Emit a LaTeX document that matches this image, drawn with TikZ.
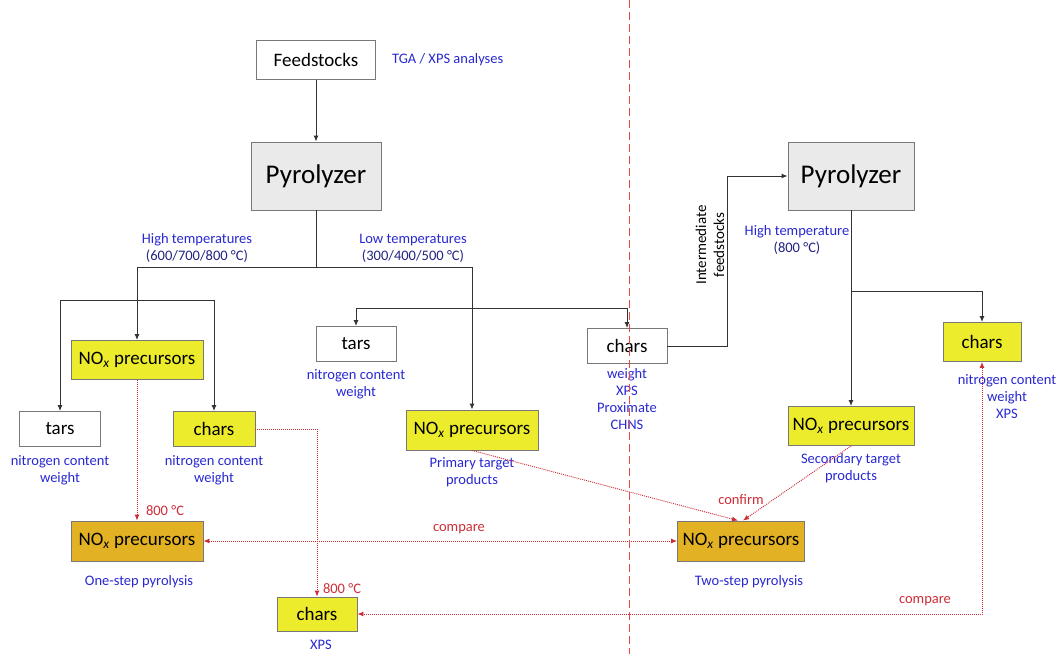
\documentclass[tikz,border=0pt]{standalone}
\usepackage{fontspec}
\setmainfont{Carlito}
\usetikzlibrary{positioning,arrows.meta}

\definecolor{boxyellow}{RGB}{236,236,44}
\definecolor{boxgold}{RGB}{226,178,36}
\definecolor{boxgrey}{RGB}{234,234,234}
\definecolor{infoblue}{RGB}{40,40,210}
\definecolor{infonavy}{RGB}{35,35,130}
\definecolor{linkred}{RGB}{205,45,55}
\definecolor{splitred}{RGB}{240,70,70}
\definecolor{edgegrey}{RGB}{120,120,120}

\newcommand{\nox}{NO\textsubscript{\itshape x} precursors}

\tikzset{
  box/.style={draw=edgegrey, line width=0.9pt, inner sep=0pt,
    minimum width=80pt, minimum height=35pt, font=\fontsize{19}{22}\selectfont},
  plainbox/.style={box, fill=white},
  yellowbox/.style={box, fill=boxyellow},
  goldbox/.style={box, fill=boxgold},
  pyrobox/.style={box, fill=boxgrey, minimum width=130pt, minimum height=68pt,
    font=\fontsize{27}{30}\selectfont},
  info/.style={text=infoblue, align=center, inner sep=0pt,
    font=\fontsize{14.5}{17}\selectfont},
  redlabel/.style={text=linkred, inner sep=0pt, font=\fontsize{14.5}{16}\selectfont},
  trunk/.style={draw=black!80, line width=1pt},
  flow/.style={trunk, -{Latex[length=6pt,width=5pt]}},
  link/.style={draw=linkred, line width=0.9pt, dash pattern=on 1pt off 1pt,
    -{Latex[length=6pt,width=5pt]}},
  twolink/.style={link, {Latex[length=6pt,width=5pt]}-{Latex[length=6pt,width=5pt]}},
}

\begin{document}
\begin{tikzpicture}[x=1pt, y=-1pt]
    \useasboundingbox (0,0) rectangle (1061,654);

    % first pyrolysis
    \node[plainbox, minimum width=119pt, minimum height=39pt] (feed) at (316,60) {Feedstocks};
    \node[info, right=16pt of feed] (feedInfo) {TGA / XPS analyses};
    \node[pyrobox] (pyro1) at (316,176) {Pyrolyzer};

    \node[info] (hiInfo) at (197,248) {High temperatures\\\textcolor{infonavy}{(600/700/800 °C)}};
    \node[info] (loInfo) at (413,248) {Low temperatures\\\textcolor{infonavy}{(300/400/500 °C)}};

    \node[yellowbox, minimum width=132pt, minimum height=39pt] (noxHi) at (137,360) {\nox};
    \node[plainbox, minimum width=81pt] (tarsHi) at (60,429) {tars};
    \node[yellowbox, minimum width=82pt] (charsHi) at (214,429) {chars};
    \node[info, below=8pt of tarsHi] (tarsHiInfo) {nitrogen content\\weight};
    \node[info, below=8pt of charsHi] (charsHiInfo) {nitrogen content\\weight};

    \node[plainbox] (tarsLo) at (356,344) {tars};
    \node[info, below=7pt of tarsLo] (tarsLoInfo) {nitrogen content\\weight};
    \node[yellowbox, minimum width=132pt, minimum height=40pt] (noxPri) at (472,430) {\nox};
    \node[info, below=7pt of noxPri] (noxPriInfo) {Primary target\\products};
    \node[plainbox] (charsLo) at (627,346) {chars};
    \node[info, below=4pt of charsLo] (charsLoInfo) {weight\\XPS\\Proximate\\CHNS};

    % second pyrolysis
    \node[pyrobox, minimum width=126pt] (pyro2) at (851,176) {Pyrolyzer};
    \node[rotate=90, align=center, inner sep=0pt, font=\fontsize{15}{18}\selectfont]
        (interLbl) at (710,245) {Intermediate\\feedstocks};
    \node[info] (hi2Info) at (797,240) {High temperature\\\textcolor{infonavy}{(800 °C)}};
    \node[yellowbox, minimum width=78pt, minimum height=39pt] (charsR) at (982,342) {chars};
    \node[info] (charsRInfo) at (1007,397) {nitrogen content\\weight\\XPS};
    \node[yellowbox, minimum width=126pt, minimum height=39pt] (noxSec) at (851,426) {\nox};
    \node[info, below=7pt of noxSec] (noxSecInfo) {Secondary target\\products};

    % results
    \node[goldbox, minimum width=132pt, minimum height=40pt] (noxOne) at (137,541) {\nox};
    \node[info] (oneInfo) at (139,582) {One-step pyrolysis};
    \node[goldbox, minimum width=127pt, minimum height=40pt] (noxTwo) at (741,541) {\nox};
    \node[info] (twoInfo) at (749,582) {Two-step pyrolysis};
    \node[yellowbox, minimum height=34pt] (charsBot) at (317,614) {chars};
    \node[info] (charsBotInfo) at (321,645) {XPS};

    % junctions
    \coordinate (split1) at (316,267);
    \coordinate (splitHi) at (137,300);
    \coordinate (splitLo) at (472,308);
    \coordinate (turn) at (727,176);
    \coordinate (split2) at (851,291);

    % black flow
    \draw[flow] (feed) -- (pyro1);
    \draw[trunk] (pyro1) -- (split1);
    \draw[flow] (split1) -| (noxHi);
    \draw[flow] (split1) -| (noxPri);
    \draw[flow] (splitHi) -| (tarsHi);
    \draw[flow] (splitHi) -| (charsHi);
    \draw[flow] (splitLo) -| (tarsLo);
    \draw[flow] (splitLo) -| (charsLo);
    \draw[flow] (charsLo.east) -| (turn) -- (pyro2);
    \draw[flow] (pyro2) -- (noxSec);
    \draw[flow] (split2) -| (charsR);

    % red links
    \draw[link] (noxHi) -- (noxOne);
    \node[redlabel] (tempOne) at (165,511) {800 °C};
    \draw[link] (charsHi.east) -| (charsBot);
    \node[redlabel] (tempBot) at (342,589) {800 °C};
    \draw[twolink] (noxOne) -- (noxTwo);
    \node[redlabel] (cmpOne) at (459,529) {compare};
    \draw[link] (noxPri.south) -- ([xshift=-3pt]noxTwo.north);
    \draw[link] (noxSec.south) -- ([xshift=2pt]noxTwo.north);
    \node[redlabel] (confirm) at (741,500) {confirm};
    \draw[twolink] (charsR) |- (charsBot);
    \node[redlabel] (cmpTwo) at (925,601) {compare};

    % split between one-step and two-step
    \draw[color=splitred, line width=0.9pt, dash pattern=on 8pt off 4pt] (629,0) -- (629,654);
\end{tikzpicture}
\end{document}
